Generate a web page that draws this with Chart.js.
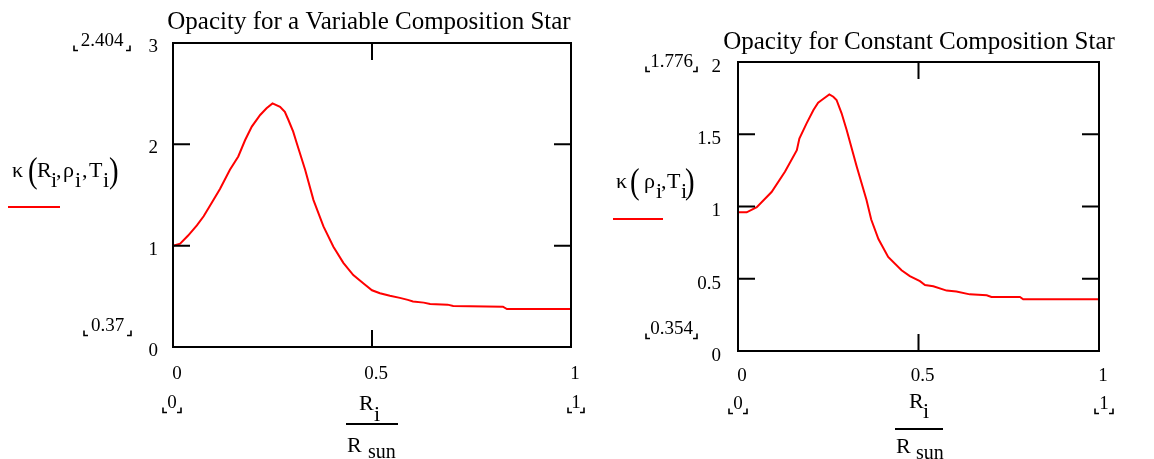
<!DOCTYPE html>
<html><head><meta charset="utf-8">
<script src="https://cdn.jsdelivr.net/npm/chart.js@4.4.1/dist/chart.umd.min.js"></script>
<style>
html,body{margin:0;padding:0;background:#fff;width:1154px;height:459px;overflow:hidden}
canvas{position:absolute;top:0}
#c1{left:0}
#c2{left:600px}
</style></head><body>
<canvas id="c1" width="600" height="459"></canvas>
<canvas id="c2" width="554" height="459"></canvas>
<script>
// ---------- data ----------
const xVar = [0,0.018,0.038,0.06,0.077,0.097,0.118,0.143,0.164,0.181,0.198,0.219,0.235,0.25,0.269,0.281,0.29,0.302,0.311,0.332,0.353,0.378,0.403,0.428,0.453,0.478,0.50,0.52,0.545,0.57,0.59,0.603,0.63,0.646,0.69,0.704,0.829,0.839,1.0];
const kVar = [1.00,1.02,1.10,1.20,1.29,1.42,1.56,1.75,1.88,2.04,2.175,2.29,2.356,2.404,2.37,2.32,2.24,2.125,2.01,1.75,1.45,1.19,0.99,0.83,0.71,0.63,0.56,0.53,0.505,0.485,0.465,0.45,0.438,0.425,0.418,0.405,0.398,0.374,0.374];
const xConst = [0,0.024,0.052,0.093,0.13,0.163,0.17,0.19,0.209,0.222,0.232,0.253,0.264,0.273,0.287,0.301,0.329,0.356,0.369,0.389,0.416,0.453,0.476,0.504,0.518,0.541,0.578,0.605,0.642,0.689,0.702,0.781,0.79,1.0];
const kConst = [0.96,0.96,0.995,1.10,1.24,1.39,1.47,1.575,1.668,1.719,1.737,1.776,1.76,1.737,1.645,1.53,1.275,1.045,0.91,0.775,0.651,0.559,0.518,0.483,0.457,0.448,0.418,0.412,0.392,0.386,0.374,0.374,0.358,0.358];
const xTicks = [0, 0.5, 1];
const yTicksVar = [0, 1, 2, 3];
const yTicksConst = [0, 0.5, 1, 1.5, 2];
const titleVar = "Opacity for a Variable Composition Star";
const titleConst = "Opacity for Constant Composition Star";
const limitsVar = ["2.404", "0.37", "0", "1"];
const limitsConst = ["1.776", "0.354", "0", "1"];

const SERIF = "'Liberation Serif', 'Times New Roman', serif";

function txt(ctx, s, x, y, size, align) {
  ctx.font = size + "px " + SERIF;
  ctx.textAlign = align || "left";
  ctx.textBaseline = "alphabetic";
  ctx.fillStyle = "#000";
  ctx.fillText(s, x, y);
}
function bracketLabel(ctx, s, bl, br, b) {
  txt(ctx, s, (bl + br) / 2, b, 19, "center");
  ctx.strokeStyle = "#000"; ctx.lineWidth = 1.6;
  ctx.beginPath();
  ctx.moveTo(bl, b - 0.5); ctx.lineTo(bl, b + 4.5); ctx.lineTo(bl + 4, b + 4.5);
  ctx.moveTo(br - 4, b + 4.5); ctx.lineTo(br, b + 4.5); ctx.lineTo(br, b - 0.5);
  ctx.stroke();
}
function paren(ctx, s, x, y) {
  ctx.save();
  ctx.translate(x, y);
  ctx.scale(0.8, 1);
  txt(ctx, s, 0, 0, 36);
  ctx.restore();
}

function decor(cfg) {
  return {
    id: "decor",
    afterDraw(chart) {
      const ctx = chart.ctx, a = chart.chartArea;
      const xs = chart.scales.x, ys = chart.scales.y;
      const o = cfg.offset;
      ctx.save();
      // frame
      ctx.strokeStyle = "#000"; ctx.lineWidth = 2;
      ctx.strokeRect(a.left, a.top, a.right - a.left, a.bottom - a.top);
      // inward ticks
      ctx.beginPath();
      xs.ticks.forEach(t => {
        if (t.value === xs.min || t.value === xs.max) return;
        const p = xs.getPixelForValue(t.value);
        ctx.moveTo(p, a.bottom); ctx.lineTo(p, a.bottom - 17);
        ctx.moveTo(p, a.top); ctx.lineTo(p, a.top + 17);
      });
      ys.ticks.forEach(t => {
        if (t.value === ys.min || t.value === ys.max) return;
        const p = ys.getPixelForValue(t.value);
        ctx.moveTo(a.left, p); ctx.lineTo(a.left + 17, p);
        ctx.moveTo(a.right, p); ctx.lineTo(a.right - 17, p);
      });
      ctx.stroke();
      // title
      txt(ctx, cfg.title, cfg.titleX - o, cfg.titleY, 25, "center");
      // y-label pieces
      cfg.ylabel.forEach(p => {
        if (p[0] === "(" || p[0] === ")") paren(ctx, p[0], p[1] - o, p[2]);
        else txt(ctx, p[0], p[1] - o, p[2], p[3] || 22);
      });
      // legend line
      ctx.strokeStyle = "#ff0000"; ctx.lineWidth = 2;
      ctx.beginPath();
      ctx.moveTo(cfg.legend[0] - o, cfg.legend[2]); ctx.lineTo(cfg.legend[1] - o, cfg.legend[2]);
      ctx.stroke();
      // x-label fraction
      cfg.xlabel.forEach(p => txt(ctx, p[0], p[1] - o, p[2], p[3] || 22));
      ctx.strokeStyle = "#000"; ctx.lineWidth = 2;
      ctx.beginPath();
      ctx.moveTo(cfg.frac[0] - o, cfg.frac[2]); ctx.lineTo(cfg.frac[1] - o, cfg.frac[2]);
      ctx.stroke();
      // limit labels
      cfg.limits.forEach((s, i) => {
        const q = cfg.limitPos[i];
        bracketLabel(ctx, s, q[0] - o, q[1] - o, q[2]);
      });
      ctx.restore();
    }
  };
}

function makeChart(id, xs, ys, yTicks, ymax, lay, cfg) {
  const pts = xs.map((x, i) => ({ x: x, y: ys[i] }));
  return new Chart(document.getElementById(id), {
    type: "line",
    data: { datasets: [{ data: pts, borderColor: "#ff0000", borderWidth: 2, pointRadius: 0, tension: 0, fill: false }] },
    options: {
      responsive: false, animation: false, devicePixelRatio: 1,
      layout: { padding: { top: lay.top, right: lay.right, left: 0, bottom: 0 } },
      plugins: { legend: { display: false }, tooltip: { enabled: false }, title: { display: false } },
      scales: {
        x: {
          type: "linear", min: 0, max: 1,
          grid: { display: false }, border: { display: false },
          afterBuildTicks: s => { s.ticks = xTicks.map(v => ({ value: v })); },
          afterFit: s => { s.height = lay.xh; },
          ticks: { color: "#000", font: { family: SERIF, size: 19 }, padding: lay.xpad, labelOffset: 4, maxRotation: 0, autoSkip: false, callback: v => String(v) }
        },
        y: {
          type: "linear", min: 0, max: ymax,
          grid: { display: false }, border: { display: false },
          afterBuildTicks: s => { s.ticks = yTicks.map(v => ({ value: v })); },
          afterFit: s => { s.width = lay.yw; },
          ticks: { color: "#000", font: { family: SERIF, size: 19 }, padding: lay.ypad, labelOffset: lay.yoff, autoSkip: false, callback: v => String(v) }
        }
      }
    },
    plugins: [decor(cfg)]
  });
}

makeChart("c1", xVar, kVar, yTicksVar, 3,
  { top: 43, right: 29, xh: 112, yw: 173, xpad: 8, ypad: 7, yoff: 4 },
  {
    offset: 0, title: titleVar, titleX: 369, titleY: 29,
    ylabel: [["κ", 12, 177], ["(", 28, 182], ["R", 37, 177], ["i", 51, 187], [",", 56, 177], ["ρ", 63, 177], ["i", 75, 187], [",", 82, 177], ["T", 89, 177], ["i", 103, 187], [")", 109, 182]],
    legend: [8, 60, 207],
    xlabel: [["R", 359, 410], ["i", 374, 421], ["R", 347, 452], ["sun", 368, 458, 20]],
    frac: [346, 398, 424],
    limits: limitsVar,
    limitPos: [[74, 130, 46], [84, 131, 331], [163, 181, 408], [568, 584, 408]]
  });

makeChart("c2", xConst, kConst, yTicksConst, 2,
  { top: 62, right: 55, xh: 108, yw: 138, xpad: 6, ypad: 9, yoff: 5 },
  {
    offset: 600, title: titleConst, titleX: 919, titleY: 49,
    ylabel: [["κ", 616, 188], ["(", 630, 193], ["ρ", 644, 188], ["i", 656, 198], [",", 661, 188], ["T", 667, 188], ["i", 681, 198], [")", 685, 193]],
    legend: [613, 663, 219],
    xlabel: [["R", 909, 408], ["i", 923, 418], ["R", 896, 453], ["sun", 916, 459, 20]],
    frac: [895, 943, 429],
    limits: limitsConst,
    limitPos: [[646, 697, 67], [646, 697, 334], [729, 747, 409], [1095, 1113, 409]]
  });
</script>
</body></html>
